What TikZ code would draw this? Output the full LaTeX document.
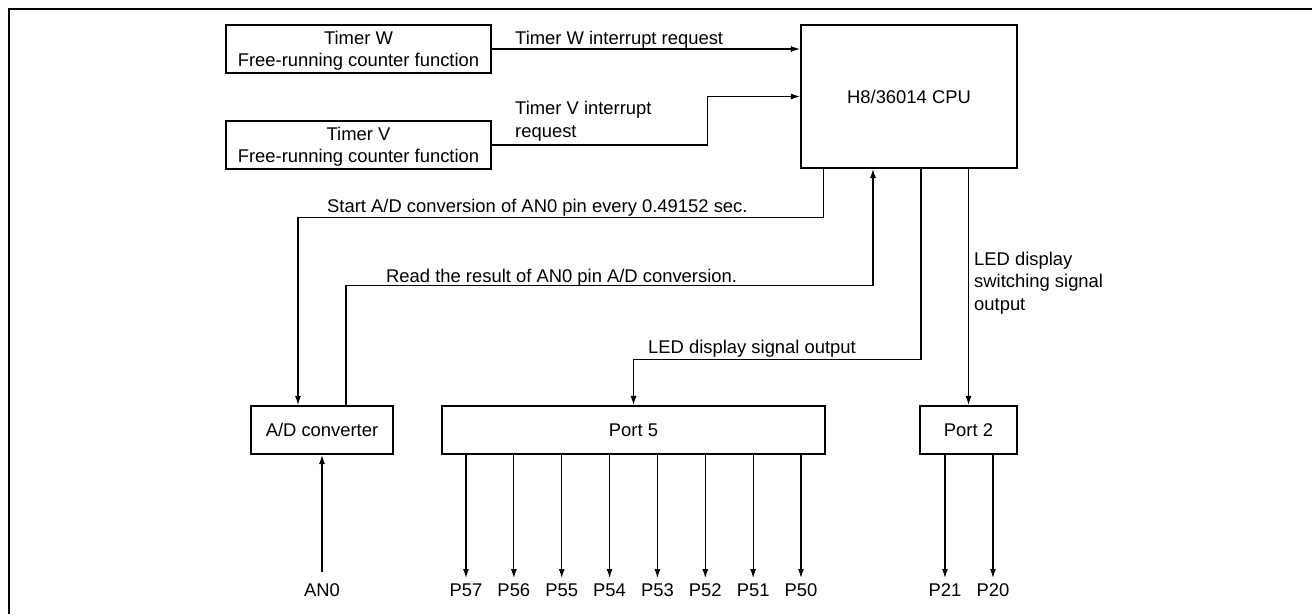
\documentclass[tikz,border=0pt]{standalone}
\usepackage{fontspec}
\setmainfont{Liberation Sans}
\usetikzlibrary{arrows.meta,calc}

\tikzset{
  blk/.style={draw,line width=2.2pt,inner sep=2pt,align=center,text depth=0pt},
  conn/.style={line width=1.1pt,-{Latex[length=9pt,width=6pt]}},
  lbl/.style={inner sep=0pt,anchor=base west,align=left},
  pin/.style={inner sep=5pt,anchor=north,text height=13.5pt,text depth=0pt},
}

\begin{document}
\begin{tikzpicture}[x=1pt,y=-1pt,font=\fontsize{18.4}{22.5}\selectfont]
  \useasboundingbox (0,0) rectangle (1312,614);
  \draw[line width=2pt] (9,614) -- (9,9) -- (1312,9);
  % blocks
  \node[blk,minimum width=265pt,minimum height=48pt] (timw) at (358.5,49) {Timer W\\Free-running counter function};
  \node[blk,minimum width=265pt,minimum height=48pt] (timv) at (358.5,145) {Timer V\\Free-running counter function};
  \node[blk,minimum width=216pt,minimum height=143pt] (cpu) at (909,96.5) {H8/36014 CPU};
  \node[blk,minimum width=142pt,minimum height=48pt] (adc) at (322,430) {A/D converter};
  \node[blk,minimum width=383pt,minimum height=48pt] (port5) at (633.5,430) {Port 5};
  \node[blk,minimum width=97pt,minimum height=48pt] (port2) at (968.5,430) {Port 2};
  % signal labels (base = last line)
  \node[lbl] (lw) at (515,44) {Timer W interrupt request};
  \node[lbl] (lv) at (515,137) {Timer V interrupt\\request};
  \node[lbl] (lst) at (327,212) {Start A/D conversion of AN0 pin every 0.49152 sec.};
  \node[lbl] (lrd) at (386,282) {Read the result of AN0 pin A/D conversion.};
  \node[lbl] (lled) at (648,353) {LED display signal output};
  \node[lbl] (lsw) at (974,310) {LED display\\switching signal\\output};
  % connectors
  \draw[conn] (timw.east) -- (timw.east -| cpu.west);
  \draw[conn] (timv.east) -- ++(215,0) |- (cpu.west);
  \draw[conn] ([xshift=24pt]cpu.south west) -- ++(0,48) -| ([xshift=-24pt]adc.north);
  \draw[conn] ([xshift=24pt]adc.north) -- ++(0,-119) -| ([xshift=-36pt]cpu.south);
  \draw[conn] ([xshift=12pt]cpu.south) -- ++(0,190) -| (port5.north);
  \draw[conn] (cpu.south -| port2.north) -- (port2.north);
  % pins
  \node[pin] (an0) at (322,578) {AN0};
  \draw[conn,shorten <=6pt] (an0.north) -- (adc.south);
  \foreach \i [count=\k from 0] in {7,6,...,0} {
    \node[pin] (p5\i) at ({466+47.86*\k},578) {P5\i};
    \draw[conn] (port5.south -| p5\i) -- (p5\i.north);
  }
  \foreach \i/\x in {1/945,0/993} {
    \node[pin] (p2\i) at (\x,578) {P2\i};
    \draw[conn] (port2.south -| p2\i) -- (p2\i.north);
  }
\end{tikzpicture}
\end{document}
